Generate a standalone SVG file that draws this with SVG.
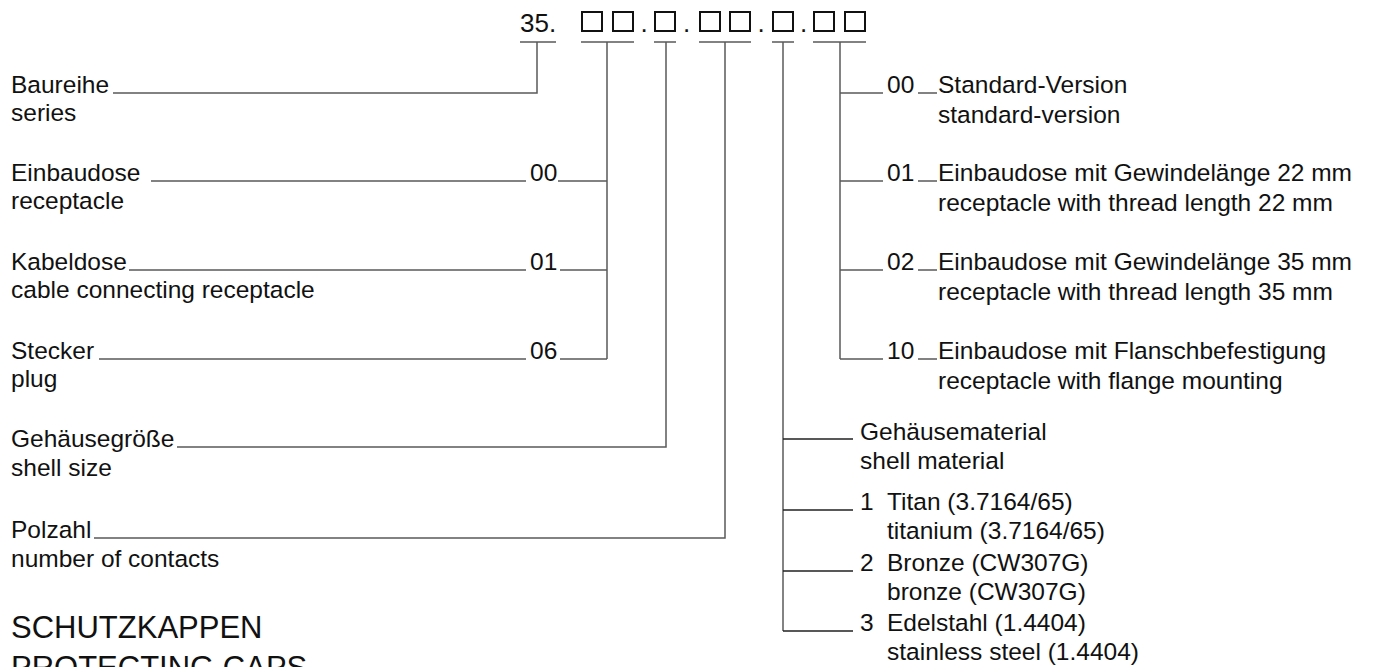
<svg xmlns="http://www.w3.org/2000/svg" width="1377" height="667" viewBox="0 0 1377 667">
<style>
text{font-family:"Liberation Sans",Arial,Helvetica,sans-serif;fill:#111;font-size:24.5px}
.hd{font-size:26px}
.big{font-size:31px}
.box{fill:none;stroke:#111;stroke-width:2}
.ln{fill:none;stroke:#5a5a5a;stroke-width:1.5}
.ln2{fill:none;stroke:#222;stroke-width:1.3}
</style>
<rect width="1377" height="667" fill="#fff"/>
<g id="header">
<text class="hd" x="520" y="32">35.</text>
<rect class="box" x="582" y="12" width="20" height="19"/>
<rect class="box" x="613" y="12" width="20" height="19"/>
<text class="hd" x="640.5" y="32">.</text>
<rect class="box" x="655" y="12" width="20" height="19"/>
<text class="hd" x="683" y="32">.</text>
<rect class="box" x="700" y="12" width="20" height="19"/>
<rect class="box" x="730" y="12" width="20" height="19"/>
<text class="hd" x="757.5" y="32">.</text>
<rect class="box" x="773" y="12" width="20" height="19"/>
<text class="hd" x="800" y="32">.</text>
<rect class="box" x="814" y="12" width="20" height="19"/>
<rect class="box" x="845" y="12" width="20" height="19"/>
</g>
<g id="connectors">
<path class="ln" d="M520 42H556M581 42H634M654 42H676M699 42H751M772 42H794M813 42H866"/>
<path class="ln" d="M537 42V93H113"/>
<path class="ln" d="M607 42V359M151 181H526M558 181H607M129 270H526M560 270H607M99 359H526M560 359H607"/>
<path class="ln" d="M666 42V447H177"/>
<path class="ln" d="M725 42V538H94"/>
<path class="ln" d="M840 42V359M840 93H883M840 181H883M840 270H883M840 359H883M918 93H937M918 181H937M918 270H937M918 359H937"/>
<path class="ln" d="M783 42V631"/>
<path class="ln2" d="M783 439H853M783 510H853M783 571H853M783 631H853"/>
</g>
<g id="series"><text x="11" y="93">Baureihe</text><text x="11" y="121">series</text></g>
<g id="receptacle"><text x="11" y="181">Einbaudose</text><text x="11" y="209">receptacle</text><text x="530" y="181">00</text></g>
<g id="cable-receptacle"><text x="11" y="270">Kabeldose</text><text x="11" y="298">cable connecting receptacle</text><text x="530" y="270">01</text></g>
<g id="plug"><text x="11" y="359">Stecker</text><text x="11" y="387">plug</text><text x="530" y="359">06</text></g>
<g id="shell-size"><text x="11" y="447">Gehäusegröße</text><text x="11" y="476">shell size</text></g>
<g id="contacts"><text x="11" y="538">Polzahl</text><text x="11" y="567">number of contacts</text></g>
<g id="caps"><text class="big" x="11" y="638">SCHUTZKAPPEN</text><text class="big" x="11" y="678">PROTECTING CAPS</text></g>
<g id="v00"><text x="887" y="93">00</text><text x="938" y="93">Standard-Version</text><text x="938" y="123">standard-version</text></g>
<g id="v01"><text x="887" y="181">01</text><text x="938" y="181">Einbaudose mit Gewindelänge 22 mm</text><text x="938" y="211">receptacle with thread length 22 mm</text></g>
<g id="v02"><text x="887" y="270">02</text><text x="938" y="270">Einbaudose mit Gewindelänge 35 mm</text><text x="938" y="300">receptacle with thread length 35 mm</text></g>
<g id="v10"><text x="887" y="359">10</text><text x="938" y="359">Einbaudose mit Flanschbefestigung</text><text x="938" y="389">receptacle with flange mounting</text></g>
<g id="material"><text x="860" y="440">Gehäusematerial</text><text x="860" y="469">shell material</text></g>
<g id="m1"><text x="860" y="510">1</text><text x="887" y="510">Titan (3.7164/65)</text><text x="887" y="539">titanium (3.7164/65)</text></g>
<g id="m2"><text x="860" y="571">2</text><text x="887" y="571">Bronze (CW307G)</text><text x="887" y="600">bronze (CW307G)</text></g>
<g id="m3"><text x="860" y="631">3</text><text x="887" y="631">Edelstahl (1.4404)</text><text x="887" y="660">stainless steel (1.4404)</text></g>
</svg>
